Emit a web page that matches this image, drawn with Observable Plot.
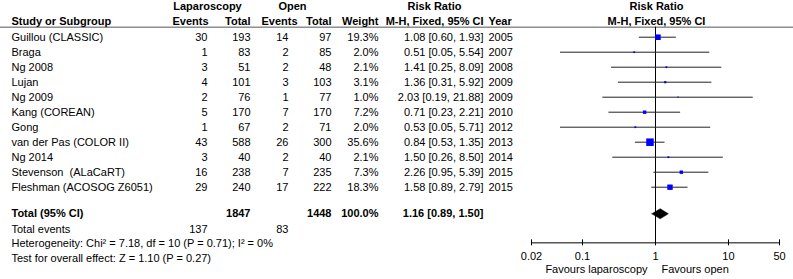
<!DOCTYPE html>
<html>
<head>
<meta charset="utf-8">
<script src="https://cdn.jsdelivr.net/npm/d3@7"></script>
<script src="https://cdn.jsdelivr.net/npm/@observablehq/plot@0.6"></script>
<style>
  html, body { margin: 0; padding: 0; background: #fff; }
  svg { display: block; }
</style>
</head>
<body>
<div id="chart"></div>
<script>
// ---- data ----
const studies = ["Guillou (CLASSIC)", "Braga", "Ng 2008", "Lujan", "Ng 2009", "Kang (COREAN)", "Gong",
  "van der Pas (COLOR II)", "Ng 2014", "Stevenson\u00a0 (ALaCaRT)", "Fleshman (ACOSOG Z6051)"];
const lapEvents = [30, 1, 3, 4, 2, 5, 1, 43, 3, 16, 29];
const lapTotal = [193, 83, 51, 101, 76, 170, 67, 588, 40, 238, 240];
const openEvents = [14, 2, 2, 3, 1, 7, 2, 26, 2, 7, 17];
const openTotal = [97, 85, 48, 103, 77, 170, 71, 300, 40, 235, 222];
const weights = [19.3, 2.0, 2.1, 3.1, 1.0, 7.2, 2.0, 35.6, 2.1, 7.3, 18.3];
const riskRatio = [1.08, 0.51, 1.41, 1.36, 2.03, 0.71, 0.53, 0.84, 1.50, 2.26, 1.58];
const ciLow = [0.60, 0.05, 0.25, 0.31, 0.19, 0.23, 0.05, 0.53, 0.26, 0.95, 0.89];
const ciHigh = [1.93, 5.54, 8.09, 5.92, 21.88, 2.21, 5.71, 1.35, 8.50, 5.39, 2.79];
const years = [2005, 2007, 2008, 2009, 2009, 2010, 2012, 2013, 2014, 2015, 2015];

const totalLapN = 1847, totalOpenN = 1448, totalWeight = 100.0;
const totalLapEvents = 137, totalOpenEvents = 83;
const totalRR = 1.16, totalLo = 0.89, totalHi = 1.50;
const heterogeneityText = "Heterogeneity: Chi\u00b2 = 7.18, df = 10 (P = 0.71); I\u00b2 = 0%";
const overallText = "Test for overall effect: Z = 1.10 (P = 0.27)";
const axisTicks = [0.02, 0.1, 1, 10, 50];
const axisTickLabels = ["0.02", "0.1", "1", "10", "50"];
const favourLeft = "Favours laparoscopy", favourRight = "Favours open";

// ---- table built from arrays ----
const rows = studies.map((s, i) => ({
  i, study: s, lapEv: lapEvents[i], lapN: lapTotal[i], openEv: openEvents[i], openN: openTotal[i],
  w: weights[i], rr: riskRatio[i], lo: ciLow[i], hi: ciHigh[i], year: years[i],
  ci: `${riskRatio[i].toFixed(2)} [${ciLow[i].toFixed(2)}, ${ciHigh[i].toFixed(2)}]`
}));

// ---- layout (row units, column pixel offsets) ----
const R = {head1: -2.07, head2: -1.07, rule: -0.67, total: 11.77, events: 12.83, het: 13.77, test: 14.77,
  axis: 13.71, tickLbl: 14.6, fav: 15.49};
const C = {study: 11, lapEv: 207, lapN: 250, openEv: 288, openN: 331, weight: 378, ci: 483, year: 488,
  lapHead: 208, openHead: 297, lapGroup: 207, openGroup: 292, rrHead: 434, forestHead: 656};

const font = "'Liberation Sans', Arial, Helvetica, sans-serif";
const T = {fontFamily: font, fontSize: 11, fill: "#000"};
const L = (opts) => ({frameAnchor: "left", ...T, ...opts});
const one = (v) => [v];

const chart = Plot.plot({
  width: 793, height: 279, margin: 0,
  style: {fontFamily: font, fontSize: "11px", background: "#fff", color: "#000"},
  x: {type: "log", domain: [0.02, 50], range: [531, 779], axis: null},
  y: {domain: [0, 10], range: [36.7, 186.7], axis: null},
  r: {type: "sqrt", domain: [0, 35.6], range: [0, 4.25]},
  marks: [
    // header rule
    Plot.ruleY([R.rule], {stroke: "#555", strokeWidth: 1}),
    // headers
    Plot.text(one("Laparoscopy"), L({y: () => R.head1, text: d => d, dx: C.lapGroup, textAnchor: "middle", fontWeight: "bold"})),
    Plot.text(one("Open"), L({y: () => R.head1, text: d => d, dx: C.openGroup, textAnchor: "middle", fontWeight: "bold"})),
    Plot.text(one("Risk Ratio"), L({y: () => R.head1, text: d => d, dx: C.rrHead, textAnchor: "middle", fontWeight: "bold"})),
    Plot.text(one("Risk Ratio"), L({y: () => R.head1, text: d => d, dx: C.forestHead, textAnchor: "middle", fontWeight: "bold"})),
    Plot.text(one("Study or Subgroup"), L({y: () => R.head2, text: d => d, dx: C.study, textAnchor: "start", fontWeight: "bold"})),
    Plot.text(one("Events"), L({y: () => R.head2, text: d => d, dx: C.lapHead, textAnchor: "end", fontWeight: "bold"})),
    Plot.text(one("Total"), L({y: () => R.head2, text: d => d, dx: C.lapN, textAnchor: "end", fontWeight: "bold"})),
    Plot.text(one("Events"), L({y: () => R.head2, text: d => d, dx: C.openHead, textAnchor: "end", fontWeight: "bold"})),
    Plot.text(one("Total"), L({y: () => R.head2, text: d => d, dx: C.openN, textAnchor: "end", fontWeight: "bold"})),
    Plot.text(one("Weight"), L({y: () => R.head2, text: d => d, dx: C.weight, textAnchor: "end", fontWeight: "bold"})),
    Plot.text(one("M-H, Fixed, 95% CI"), L({y: () => R.head2, text: d => d, dx: C.ci, textAnchor: "end", fontWeight: "bold"})),
    Plot.text(one("Year"), L({y: () => R.head2, text: d => d, dx: C.year, textAnchor: "start", fontWeight: "bold"})),
    Plot.text(one("M-H, Fixed, 95% CI"), L({y: () => R.head2, text: d => d, dx: C.forestHead, textAnchor: "middle", fontWeight: "bold"})),

    // study rows
    Plot.text(rows, L({y: "i", text: "study", dx: C.study, textAnchor: "start"})),
    Plot.text(rows, L({y: "i", text: "lapEv", dx: C.lapEv, textAnchor: "end"})),
    Plot.text(rows, L({y: "i", text: "lapN", dx: C.lapN, textAnchor: "end"})),
    Plot.text(rows, L({y: "i", text: "openEv", dx: C.openEv, textAnchor: "end"})),
    Plot.text(rows, L({y: "i", text: "openN", dx: C.openN, textAnchor: "end"})),
    Plot.text(rows, L({y: "i", text: d => d.w.toFixed(1) + "%", dx: C.weight, textAnchor: "end"})),
    Plot.text(rows, L({y: "i", text: "ci", dx: C.ci, textAnchor: "end"})),
    Plot.text(rows, L({y: "i", text: d => String(d.year), dx: C.year, textAnchor: "start"})),

    // total row
    Plot.text(one("Total (95% CI)"), L({y: () => R.total, text: d => d, dx: C.study, textAnchor: "start", fontWeight: "bold"})),
    Plot.text(one(totalLapN), L({y: () => R.total, text: d => String(d), dx: C.lapN, textAnchor: "end", fontWeight: "bold"})),
    Plot.text(one(totalOpenN), L({y: () => R.total, text: d => String(d), dx: C.openN, textAnchor: "end", fontWeight: "bold"})),
    Plot.text(one(totalWeight), L({y: () => R.total, text: d => d.toFixed(1) + "%", dx: C.weight, textAnchor: "end", fontWeight: "bold"})),
    Plot.text(one(0), L({y: () => R.total, text: () => `${totalRR.toFixed(2)} [${totalLo.toFixed(2)}, ${totalHi.toFixed(2)}]`, dx: C.ci, textAnchor: "end", fontWeight: "bold"})),
    Plot.text(one("Total events"), L({y: () => R.events, text: d => d, dx: C.study, textAnchor: "start"})),
    Plot.text(one(totalLapEvents), L({y: () => R.events, text: d => String(d), dx: C.lapEv, textAnchor: "end"})),
    Plot.text(one(totalOpenEvents), L({y: () => R.events, text: d => String(d), dx: C.openEv, textAnchor: "end"})),
    Plot.text(one(heterogeneityText), L({y: () => R.het, text: d => d, dx: C.study, textAnchor: "start"})),
    Plot.text(one(overallText), L({y: () => R.test, text: d => d, dx: C.study, textAnchor: "start"})),

    // forest plot
    Plot.ruleX([1], {y1: R.rule, y2: R.axis, stroke: "#000"}),
    Plot.ruleY(rows, {y: "i", x1: "lo", x2: "hi", stroke: "#222"}),
    Plot.dot(rows, {x: "rr", y: "i", r: "w", symbol: "square", fill: "#0000ff", stroke: null}),
    Plot.line([
      {x: totalLo, y: R.total}, {x: totalRR, y: R.total - 0.34},
      {x: totalHi, y: R.total}, {x: totalRR, y: R.total + 0.34}, {x: totalLo, y: R.total}
    ], {x: "x", y: "y", fill: "#000", stroke: "#000", strokeWidth: 0.5, curve: "linear"}),

    // axis
    Plot.ruleY([R.axis], {x1: axisTicks[0], x2: axisTicks[axisTicks.length - 1], stroke: "#000"}),
    Plot.ruleX(axisTicks, {x: d => d, y1: R.axis - 0.2, y2: R.axis + 0.2, stroke: "#000"}),
    Plot.text(axisTicks, {...T, x: d => d, y: () => R.tickLbl, text: (d, i) => axisTickLabels[i], textAnchor: "middle"}),
    Plot.text(one(favourLeft), {...T, x: () => 1, y: () => R.fav, text: d => d, textAnchor: "end", dx: -8}),
    Plot.text(one(favourRight), {...T, x: () => 1, y: () => R.fav, text: d => d, textAnchor: "start", dx: 6})
  ]
});
document.getElementById("chart").append(chart);
</script>
</body>
</html>
